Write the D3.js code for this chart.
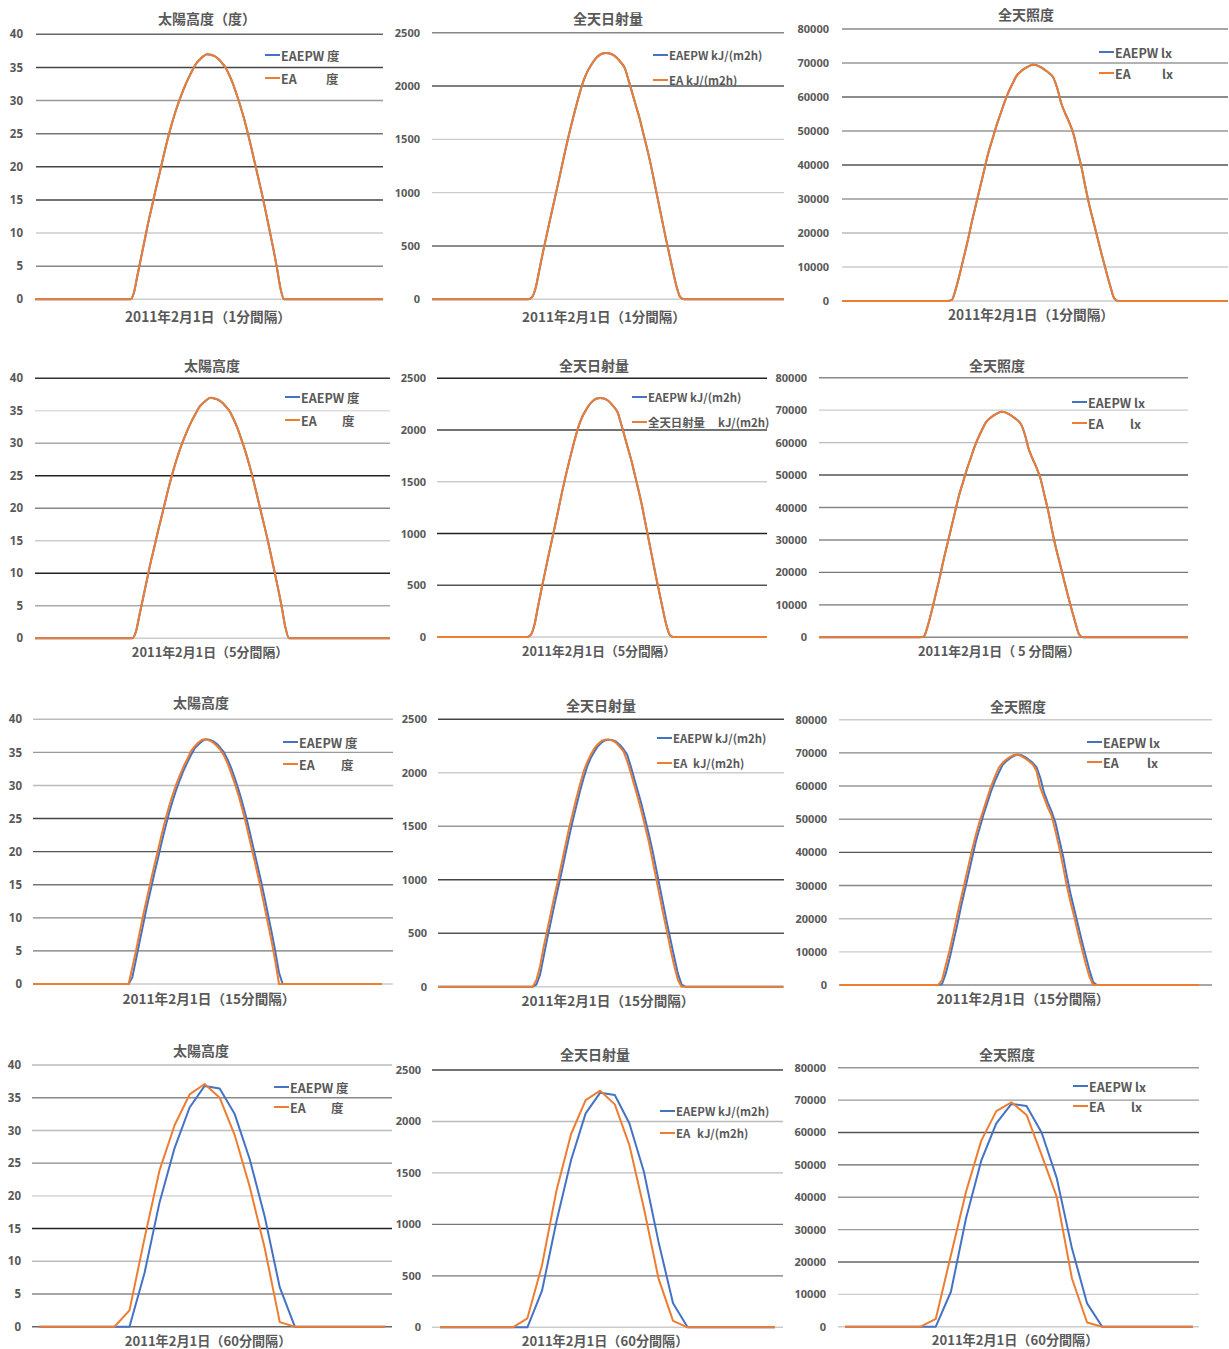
<!DOCTYPE html>
<html>
<head>
<meta charset="utf-8">
<script src="https://cdn.jsdelivr.net/npm/d3@7"></script>
<style>
  body { margin: 0; background: #fff; }
  svg { display: block; }
  text { font-family: "Noto Sans CJK JP", "Noto Sans", sans-serif; fill: #595959; }
</style>
</head>
<body>
<svg id="chart" width="1229" height="1349"></svg>
<script>
// y axis ticks
const altTicks = [0, 5, 10, 15, 20, 25, 30, 35, 40];
const radTicks = [0, 500, 1000, 1500, 2000, 2500];
const luxTicks = [0, 10000, 20000, 30000, 40000, 50000, 60000, 70000, 80000];

// 15-minute values, daytime only, first value is index q15Start (96 steps per day)
const q15Start = 26;
const alt15EAEPW = [0, 1.0, 3.7, 6.4, 9.1, 11.8, 14.2, 16.7, 19.0, 21.4, 23.7, 25.8, 27.7, 29.4, 30.9, 32.3,
  33.5, 34.6, 35.6, 36.2, 36.7, 37.0, 36.9, 36.7, 36.3, 35.7, 35.0, 33.9, 32.6, 31.0, 29.3, 27.4,
  25.3, 23.0, 20.6, 18.2, 15.8, 13.2, 10.5, 7.8, 4.9, 1.7, 0];
const alt15EA = [0, 2.5, 5.0, 7.8, 10.5, 13.0, 15.5, 17.9, 20.2, 22.6, 24.8, 26.8, 28.6, 30.2, 31.6, 32.9,
  34.0, 35.2, 35.9, 36.5, 36.9, 37.0, 36.8, 36.5, 36.0, 35.4, 34.5, 33.3, 31.8, 30.2, 28.4, 26.4,
  24.2, 21.8, 19.4, 17.0, 14.5, 11.8, 9.1, 6.4, 3.4, 0, 0];
const rad15EAEPW = [0, 20, 110, 280, 450, 610, 770, 925, 1080, 1240, 1400, 1550, 1690, 1825, 1950, 2060,
  2140, 2200, 2250, 2285, 2305, 2310, 2305, 2290, 2260, 2220, 2170, 2060, 1940, 1820, 1700, 1560,
  1420, 1270, 1100, 930, 760, 590, 430, 270, 120, 20, 0];
const rad15EA = [0, 60, 190, 370, 530, 690, 850, 1000, 1160, 1320, 1480, 1620, 1760, 1890, 2010, 2100,
  2170, 2230, 2270, 2300, 2310, 2310, 2300, 2280, 2240, 2200, 2110, 2000, 1880, 1760, 1630, 1490,
  1350, 1180, 1010, 840, 670, 510, 340, 190, 60, 0, 0];
const lux15EAEPW = [0, 300, 3500, 8000, 13000, 18000, 23500, 28500, 33500, 38500, 43500, 47500, 51500, 55000, 58500, 61500,
  64000, 66300, 67500, 68400, 69100, 69500, 69300, 68700, 67900, 67000, 65700, 62500, 58000, 55000, 52300, 49000,
  44000, 39000, 33000, 27500, 22800, 18000, 13300, 8800, 4500, 800, 0];
const lux15EA = [0, 1500, 6000, 10500, 15500, 21000, 26000, 31000, 36000, 41000, 45500, 49500, 53000, 56500, 60000, 62800,
  65500, 67000, 68000, 68800, 69400, 69500, 69000, 68300, 67500, 66500, 64500, 59500, 56500, 53500, 51000, 46500,
  41500, 36000, 30000, 25000, 20500, 15500, 11000, 6500, 2500, 0, 0];

// hourly values, daytime only, first value is hour index h60Start (24 steps per day)
const h60Start = 5;
const alt60EAEPW = [0, 0, 8.2, 19.0, 27.3, 33.5, 36.8, 36.4, 32.5, 25.6, 16.8, 6.0, 0, 0];
const alt60EA = [0, 2.5, 13.5, 23.9, 30.8, 35.5, 37.1, 35.0, 29.3, 21.4, 12.0, 0.7, 0, 0];
const rad60EAEPW = [0, 0, 353, 1030, 1626, 2079, 2280, 2257, 1982, 1512, 832, 233, 0, 0];
const rad60EA = [0, 87, 600, 1330, 1878, 2208, 2299, 2166, 1771, 1156, 476, 62, 0, 0];
const lux60EAEPW = [0, 0, 10800, 33500, 51200, 62800, 68800, 68200, 59900, 45800, 24200, 7200, 0, 0];
const lux60EA = [0, 2400, 22100, 41700, 57400, 66600, 69300, 65400, 53000, 40000, 14900, 1300, 0, 0];

const blue = "#4472C4";
const orange = "#ED7D31";

const kinds = {
  alt: { ticks: altTicks, max: 40, unit: "度", legSize: 12.5, q15: [alt15EAEPW, alt15EA], h60: [alt60EAEPW, alt60EA] },
  rad: { ticks: radTicks, max: 2500, unit: "kJ/(m2h)", legSize: 11.4, q15: [rad15EAEPW, rad15EA], h60: [rad60EAEPW, rad60EA] },
  lux: { ticks: luxTicks, max: 80000, unit: "lx", legSize: 12.5, q15: [lux15EAEPW, lux15EA], h60: [lux60EAEPW, lux60EA] }
};

const panels = [
  { kind: "alt", step: 1, title: "太陽高度（度）", tx: 207, ty: 18, tickR: 23, yT: 34.3, yB: 299.3, gx0: 36, gx1: 383, lx0: 35, lx1: 383, legX: 265, legY: [55, 78], unitX: 326, xlX: 208, xlY: 316, xlSize: 13.7,
    grid: ["#666", "#444", "#999", "#777", "#444", "#444", "#ccc", "#888", "#ccc"] },
  { kind: "rad", step: 1, title: "全天日射量", tx: 608, ty: 18, tickR: 420, yT: 32.7, yB: 299.3, gx0: 432, gx1: 784, lx0: 432, lx1: 784, legX: 653, legY: [55, 80], unitX: 686, xlX: 604, xlY: 316, xlSize: 13.5,
    grid: ["#888", "#555", "#ccc", "#ccc", "#666", "#ccc"] },
  { kind: "lux", step: 1, title: "全天照度", tx: 1026, ty: 14, tickR: 829, yT: 29, yB: 301, gx0: 842, gx1: 1228, lx0: 842, lx1: 1228, legX: 1099, legY: [52, 73], unitX: 1162, xlX: 1031, xlY: 314, xlSize: 13.7,
    grid: ["#888", "#999", "#666", "#999", "#555", "#999", "#bbb", "#ccc", "#ccc"] },
  { kind: "alt", step: 5, title: "太陽高度", tx: 212, ty: 365, tickR: 23, yT: 378.3, yB: 638.3, gx0: 35, gx1: 390, lx0: 35, lx1: 390, legX: 285, legY: [397, 420], unitX: 342, xlX: 210, xlY: 651, xlSize: 12.9,
    grid: ["#333", "#ddd", "#aaa", "#222", "#888", "#ccc", "#222", "#aaa", "#ccc"] },
  { kind: "rad", step: 5, title: "全天日射量", tx: 594, ty: 365, tickR: 426, yT: 378.3, yB: 637, gx0: 437, gx1: 767, lx0: 437, lx1: 767, legX: 632, legY: [397, 422], unitX: 718, name2: "全天日射量", xlX: 599, xlY: 650, xlSize: 12.7,
    grid: ["#222", "#444", "#ccc", "#222", "#555", "#ccc"] },
  { kind: "lux", step: 5, title: "全天照度", tx: 997, ty: 365, tickR: 807, yT: 377.7, yB: 637.3, gx0: 819, gx1: 1188, lx0: 819, lx1: 1188, legX: 1072, legY: [402, 423], unitX: 1130, xlX: 999, xlY: 650, xlSize: 12.9, xlabel: "2011年2月1日（ 5 分間隔）",
    grid: ["#888", "#ccc", "#bbb", "#555", "#888", "#888", "#777", "#777", "#888"] },
  { kind: "alt", step: 15, title: "太陽高度", tx: 201, ty: 702, tickR: 22, yT: 719.3, yB: 984, gx0: 33, gx1: 393, lx0: 33.3, lx1: 381.7, legX: 283, legY: [742, 764], unitX: 341, xlX: 209, xlY: 998, xlSize: 13.6,
    grid: ["#bbb", "#999", "#bbb", "#444", "#555", "#777", "#888", "#777", "#ccc"] },
  { kind: "rad", step: 15, title: "全天日射量", tx: 601, ty: 705, tickR: 427, yT: 719.3, yB: 986.7, gx0: 438, gx1: 784, lx0: 438.3, lx1: 783.3, legX: 657, legY: [738, 763], unitX: 693, xlX: 608, xlY: 1000, xlSize: 13.6,
    grid: ["#444", "#ccc", "#999", "#444", "#555", "#ccc"] },
  { kind: "lux", step: 15, title: "全天照度", tx: 1018, ty: 706, tickR: 827, yT: 719.7, yB: 985, gx0: 839, gx1: 1212, lx0: 840, lx1: 1199, legX: 1087, legY: [742, 762], unitX: 1147, xlX: 1023, xlY: 998, xlSize: 13.6,
    grid: ["#ccc", "#888", "#999", "#999", "#555", "#888", "#bbb", "#ccc", "#888"] },
  { kind: "alt", step: 60, title: "太陽高度", tx: 201, ty: 1050, tickR: 21, yT: 1065, yB: 1326.7, gx0: 32, gx1: 392, lx0: 39.3, lx1: 385, legX: 274, legY: [1087, 1107], unitX: 331, xlX: 208, xlY: 1340, xlSize: 13.1,
    grid: ["#bbb", "#888", "#bbb", "#888", "#ccc", "#222", "#bbb", "#888", "#666"] },
  { kind: "rad", step: 60, title: "全天日射量", tx: 595, ty: 1054, tickR: 421, yT: 1070, yB: 1327.3, gx0: 432, gx1: 783, lx0: 440, lx1: 775, legX: 660, legY: [1111, 1133], unitX: 697, xlX: 605, xlY: 1340, xlSize: 13.1,
    grid: ["#444", "#bbb", "#bbb", "#777", "#777", "#ccc"] },
  { kind: "lux", step: 60, title: "全天照度", tx: 1007, ty: 1054, tickR: 826, yT: 1067.7, yB: 1326.7, gx0: 838, gx1: 1199, lx0: 845, lx1: 1193, legX: 1073, legY: [1086, 1106], unitX: 1131, xlX: 1015, xlY: 1339, xlSize: 13.1,
    grid: ["#999", "#999", "#555", "#666", "#999", "#999", "#666", "#ccc", "#ccc"] }
];

const pad = (vals, start, n) => d3.range(n).map(i => (i >= start && i < start + vals.length) ? vals[i - start] : 0);

const svg = d3.select("#chart");

panels.forEach(p => {
  const k = kinds[p.kind];
  let series;
  if (p.step === 60) {
    series = k.h60.map(v => pad(v, h60Start, 24));
  } else if (p.step === 15) {
    series = k.q15.map(v => pad(v, q15Start, 96));
  } else {
    // 1- and 5-minute files: both series coincide, drawn from the EAEPW readings
    const s = pad(k.q15[0], q15Start, 96);
    series = [s, s];
  }

  const g = svg.append("g");
  const y = d3.scaleLinear().domain([0, k.max]).range([p.yB, p.yT]);
  const x = d3.scaleLinear().domain([0, series[0].length - 1]).range([p.lx0, p.lx1]);

  // gridlines (top to bottom)
  const ticksDesc = k.ticks.slice().reverse();
  g.selectAll(".grid").data(ticksDesc).enter().append("line")
    .attr("x1", p.gx0).attr("x2", p.gx1)
    .attr("y1", d => y(d)).attr("y2", d => y(d))
    .attr("stroke", (d, i) => p.grid[i])
    .attr("stroke-width", 1.4);

  // y axis labels
  const yAxis = g.append("g")
    .attr("transform", "translate(" + p.tickR + ",0)")
    .call(d3.axisLeft(y).tickValues(k.ticks).tickSize(0).tickPadding(0).tickFormat(d3.format("d")));
  yAxis.select(".domain").remove();
  yAxis.selectAll("text")
    .attr("fill", "#595959")
    .style("font-size", p.kind === "alt" ? "11.5px" : "11px")
    .style("font-weight", "bold")
    .style("font-family", "'Noto Sans', sans-serif");

  // lines: EAEPW first, EA on top; the dense 1- and 5-minute lines are drawn smooth
  const line = d3.line().x((d, i) => x(i)).y(d => y(d));
  if (p.step < 15) line.curve(d3.curveMonotoneX);
  [blue, orange].forEach((c, i) => {
    g.append("path")
      .datum(series[i])
      .attr("fill", "none")
      .attr("stroke", c)
      .attr("stroke-width", 2)
      .attr("stroke-linejoin", "round")
      .attr("d", line);
  });

  // title
  g.append("text")
    .attr("x", p.tx).attr("y", p.ty)
    .attr("text-anchor", "middle").attr("dominant-baseline", "central")
    .style("font-size", "14px").style("font-weight", "bold")
    .text(p.title);

  // legend
  const names = [["EAEPW " + k.unit, null], [p.name2 || "EA", k.unit]];
  names.forEach((n, i) => {
    const ly = p.legY[i];
    g.append("line")
      .attr("x1", p.legX).attr("x2", p.legX + 15)
      .attr("y1", ly).attr("y2", ly)
      .attr("stroke", i === 0 ? blue : orange).attr("stroke-width", 2);
    g.append("text")
      .attr("x", p.legX + 16).attr("y", ly)
      .attr("dominant-baseline", "central")
      .style("font-size", k.legSize + "px").style("font-weight", "bold")
      .attr("fill", "#404040")
      .text(n[0]);
    if (n[1]) {
      g.append("text")
        .attr("x", p.unitX).attr("y", ly)
        .attr("dominant-baseline", "central")
        .style("font-size", k.legSize + "px").style("font-weight", "bold")
        .attr("fill", "#404040")
        .text(n[1]);
    }
  });

  // x axis title
  g.append("text")
    .attr("x", p.xlX).attr("y", p.xlY)
    .attr("text-anchor", "middle").attr("dominant-baseline", "central")
    .style("font-size", p.xlSize + "px").style("font-weight", "bold")
    .attr("fill", "#404040")
    .text(p.xlabel || ("2011年2月1日（" + p.step + "分間隔）"));
});
</script>
</body>
</html>
